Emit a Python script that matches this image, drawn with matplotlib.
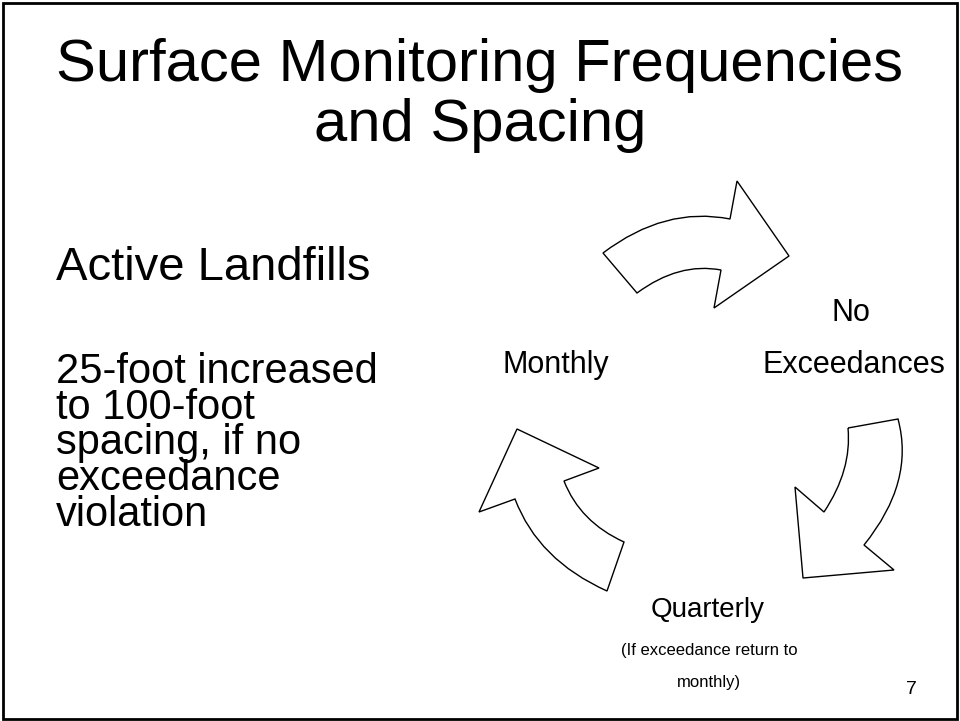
import matplotlib
matplotlib.use("Agg")
from matplotlib import pyplot as plt
from matplotlib.path import Path
from matplotlib.patches import PathPatch, Rectangle

plt.rcParams['font.family'] = ['Liberation Sans', 'DejaVu Sans']

# slide texts
title_lines = ["Surface Monitoring Frequencies", "and Spacing"]
heading = "Active Landfills"
body_lines = ["25-foot increased", "to 100-foot", "spacing, if no", "exceedance", "violation"]
cycle_labels = ["No", "Exceedances", "Quarterly", "Monthly"]
note_lines = ["(If exceedance return to", "monthly)"]
page_no = "7"

# arrow outlines in slide pixels: 'L' line to point, 'Q' quadratic (control, end)
arrow_top = [
    ("M", (603, 253)), ("Q", (665, 206), (730, 219)), ("L", (737, 181)),
    ("L", (789, 256)), ("L", (714, 308)), ("L", (721, 270)),
    ("Q", (679, 262), (637, 293)), ("L", (603, 253)),
]
arrow_right = [
    ("M", (848, 428)), ("L", (898, 419)), ("Q", (915, 482), (864, 545)),
    ("L", (894, 570)), ("L", (803, 578)), ("L", (795, 487)),
    ("L", (824, 512)), ("Q", (852, 470), (848, 428)),
]
arrow_left = [
    ("M", (517, 429)), ("L", (599, 468)), ("L", (564, 481)),
    ("Q", (580, 522), (624, 542)), ("L", (607, 591)),
    ("Q", (538, 560), (515, 499)), ("L", (479, 512)), ("L", (517, 429)),
]


def make_path(spec):
    verts = []
    codes = []
    for item in spec:
        if item[0] == "M":
            verts.append(item[1]); codes.append(Path.MOVETO)
        elif item[0] == "L":
            verts.append(item[1]); codes.append(Path.LINETO)
        else:
            verts += [item[1], item[2]]; codes += [Path.CURVE3, Path.CURVE3]
    codes[-1] = Path.CLOSEPOLY if item[0] == "L" else codes[-1]
    return Path(verts, codes)


fig = plt.figure(figsize=(9.6, 7.21), dpi=100)
ax = fig.add_axes([0, 0, 1, 1])
ax.set_xlim(0, 960)
ax.set_ylim(721, 0)
ax.axis("off")

ax.add_patch(Rectangle((3, 3), 954, 716, fill=False, lw=2, ec="black"))

ax.text(480, 81, title_lines[0], fontsize=43, ha="center", va="baseline")
ax.text(480, 141, title_lines[1], fontsize=43, ha="center", va="baseline")

ax.text(56, 268, heading, fontsize=34, ha="left", va="center")
ax.text(56, 352, "\n".join(body_lines), fontsize=30, ha="left", va="top",
        linespacing=0.86)

for spec in (arrow_top, arrow_right, arrow_left):
    ax.add_patch(PathPatch(make_path(spec), fc="white", ec="black", lw=1))

ax.text(851, 313, cycle_labels[0], fontsize=22, ha="center", va="center")
ax.text(854, 365, cycle_labels[1], fontsize=22, ha="center", va="center")
ax.text(708, 610, cycle_labels[2], fontsize=20, ha="center", va="center")
ax.text(556, 365, cycle_labels[3], fontsize=22, ha="center", va="center")
ax.text(709, 651, note_lines[0], fontsize=12, ha="center", va="center")
ax.text(709, 683, note_lines[1], fontsize=12, ha="center", va="center")
ax.text(911, 690, page_no, fontsize=14, ha="center", va="center")

fig.savefig("out.png", dpi=100)
